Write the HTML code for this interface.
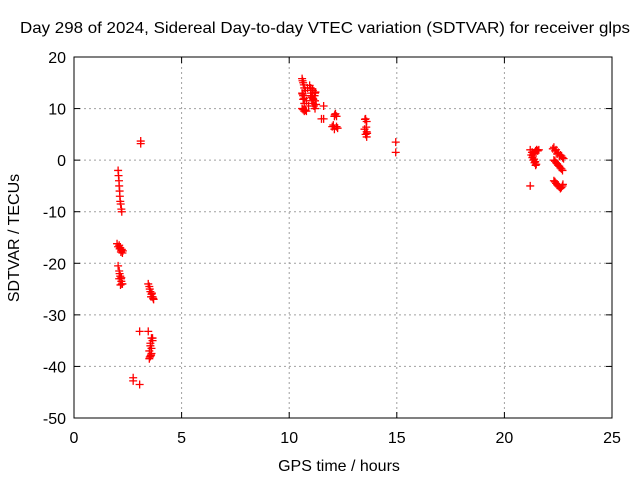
<!DOCTYPE html>
<html><head><meta charset="utf-8"><style>
body{margin:0;background:#fff}
svg{display:block;font-family:"Liberation Sans",sans-serif;font-size:16px}
</style></head><body>
<svg id="c" width="640" height="480">
<text x="20" y="33" textLength="610" lengthAdjust="spacingAndGlyphs">Day 298 of 2024, Sidereal Day-to-day VTEC variation (SDTVAR) for receiver glps</text>
<text x="339" y="471" text-anchor="middle">GPS time / hours</text>
<text transform="translate(19,238) rotate(-90)" text-anchor="middle">SDTVAR / TECUs</text>
<g id="grid"></g><g id="axes"></g><g id="pts"></g>
</svg>
<script>
const xTicks=[0,5,10,15,20,25];
const yTicks=[20,10,0,-10,-20,-30,-40,-50];
const hours=[2.05,2.07,2.09,2.1,2.12,2.13,2.15,2.17,2.2,2.22,2.1,2.15,2.2,2.25,2.05,2.1,2.12,2.15,2.18,2.2,2.22,2.25,3.5,3.55,3.6,3.65,3.7,3.6,3.55,3.5,3.65,3.6,3.55,3.5,3.45,3.1,3.1,3.05,2.75,2.75,3.05,
2.0,2.05,2.12,2.18,2.22,2.27,2.1,2.16,2.2,3.45,3.52,3.58,3.62,3.68,3.55,3.6,3.65,3.58,3.52,
10.6,10.65,10.7,10.6,10.65,10.7,10.8,10.9,11.0,11.1,11.2,11.0,11.05,11.1,11.15,11.2,11.0,11.1,11.2,10.6,10.7,10.8,11.6,11.6,11.5,12.1,12.15,12.2,12.0,12.1,12.2,13.55,13.6,13.5,13.6,13.55,13.6,14.95,14.95,
10.62,10.68,10.75,10.85,10.95,10.65,10.7,10.62,11.05,11.12,11.18,11.22,11.08,11.25,10.65,10.75,12.05,12.25,12.12,13.52,13.62,13.58,
21.2,21.25,21.3,21.35,21.4,21.45,21.5,21.3,21.4,21.5,21.6,21.2,22.3,22.4,22.5,22.6,22.7,22.3,22.4,22.5,22.6,22.7,22.3,22.4,22.5,22.6,22.7,
21.28,21.33,21.38,21.43,21.48,21.55,21.35,21.45,22.25,22.35,22.45,22.55,22.65,22.75,22.35,22.45,22.55,22.65,22.35,22.45,22.55,22.65,22.72];
const values=[-2,-3,-4,-5,-6,-7,-8,-8.5,-9.5,-10,-16.5,-17,-17.5,-18,-20.5,-21.5,-22,-22.5,-23,-23.5,-24,-24,-24.5,-25.5,-26,-26.5,-27,-34.5,-35.5,-37,-35,-36.5,-38,-38.5,-33.2,3.2,3.7,-33.2,-42.2,-42.8,-43.5,
-16.2,-16.8,-17.2,-17.8,-17.3,-17.6,-23,-24.2,-22.8,-24,-25,-26.5,-25.8,-26.8,-36,-37.5,-34.5,-37.8,-38.2,
15.8,15,14,13,12.5,12,11.5,10.5,14,13.5,13,12.5,11.5,11,10.5,10,13,12,11.5,10,9.5,9.5,10.5,8,8,8.5,9,8.5,6.5,6,6.5,8,7.5,6,5.5,5,4.5,3.5,1.5,
15.4,14.6,13.5,14,14.5,11.8,11,12.8,12.2,11.8,12.5,13.2,13.8,10.8,9.8,9.7,6.8,6.2,8.8,7.9,5.2,6.4,
2,1,0.5,0,-0.5,-1,2,1.5,1.5,2,2,-5,2.5,2,1.5,1,0.5,0,-0.5,-1,-1.5,-2,-4,-4.5,-5,-5.5,-5,
1.5,0.8,0.2,-0.3,-0.8,1.8,1.2,1.8,2.2,1.8,1.2,0.8,0.8,0.3,-0.2,-0.7,-1.2,-1.7,-4.2,-4.8,-5.2,-5.3,-4.7];
const X=h=>74+h*(612-74)/25, Y=v=>57+(20-v)*(418-57)/70;
const ns="http://www.w3.org/2000/svg";
function mk(p,t,a){const e=document.createElementNS(ns,t);for(const k in a)e.setAttribute(k,a[k]);document.getElementById(p).appendChild(e);return e;}
xTicks.forEach(t=>{
 if(t>0&&t<25){const g=mk('grid','line',{x1:X(t),x2:X(t),y1:57,y2:418,stroke:'#a0a0a0','stroke-dasharray':'2,3'});
 
 }
 mk('axes','line',{x1:X(t),x2:X(t),y1:418,y2:412,stroke:'#000'});
 mk('axes','line',{x1:X(t),x2:X(t),y1:57,y2:63,stroke:'#000'});
 const l=mk('axes','text',{x:X(t),y:443,'text-anchor':'middle'});l.textContent=t;
 
 
});
yTicks.forEach(t=>{
 if(t<20&&t>-50){const g=mk('grid','line',{x1:74,x2:612,y1:Y(t),y2:Y(t),stroke:'#a0a0a0','stroke-dasharray':'2,3'});
 
 }
 mk('axes','line',{x1:74,x2:80,y1:Y(t),y2:Y(t),stroke:'#000'});
 mk('axes','line',{x1:606,x2:612,y1:Y(t),y2:Y(t),stroke:'#000'});
 const l=mk('axes','text',{x:66,y:Y(t)+6,'text-anchor':'end'});l.textContent=t;
 
 
});
const f=mk('axes','rect',{x:74,y:57,width:538,height:361,fill:'none',stroke:'#000'});


hours.forEach((h,i)=>{
 const x=X(h),y=Y(values[i]);
 const p=mk('pts','path',{d:`M${x-4},${y}h8M${x},${y-4}v8`,stroke:'#f00','stroke-width':1.3});
 
 
});
</script>
</body></html>
